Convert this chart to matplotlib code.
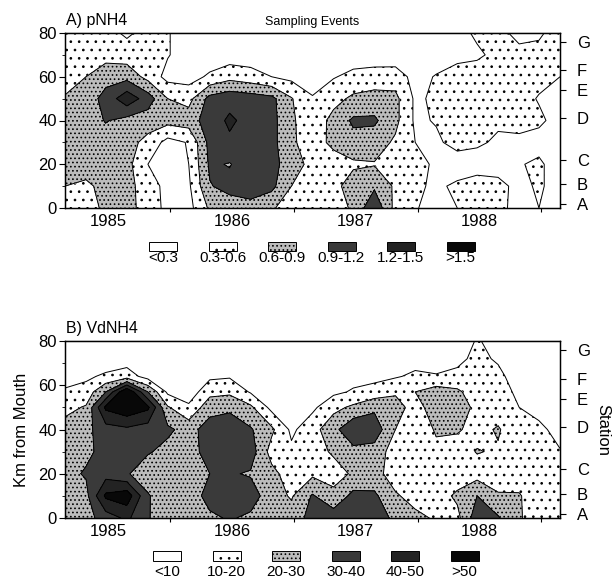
import numpy as np
import matplotlib
matplotlib.use("Agg")
import matplotlib.pyplot as plt
from matplotlib.patches import Rectangle

plt.rcParams["font.family"] = ["Liberation Sans", "DejaVu Sans"]
plt.rcParams["hatch.color"] = "black"
plt.rcParams["hatch.linewidth"] = 0.7

# sampling grid (decimal year)
YEARS = [1985.15, 1985.32, 1985.48, 1985.65, 1985.82, 1985.98, 1986.15, 1986.32,
         1986.48, 1986.65, 1986.82, 1986.98, 1987.15, 1987.32, 1987.48, 1987.65,
         1987.82, 1987.98, 1988.15, 1988.32, 1988.48, 1988.65, 1988.82, 1988.98, 1989.15]

# A) pNH4, rows from km 80 down to km 0
KM_A = [80, 70, 60, 50, 40, 30, 20, 10, 0]
PNH4 = [
    [0.45, 0.45, 0.40, 0.25, 0.40, 0.32, 0.15, 0.12, 0.12, 0.12, 0.12, 0.12, 0.12, 0.12, 0.12, 0.12, 0.12, 0.12, 0.15, 0.20, 0.35, 0.40, 0.20, 0.25, 0.45],
    [0.45, 0.48, 0.48, 0.45, 0.42, 0.32, 0.15, 0.12, 0.14, 0.14, 0.12, 0.12, 0.12, 0.12, 0.15, 0.15, 0.12, 0.12, 0.15, 0.20, 0.25, 0.38, 0.40, 0.40, 0.45],
    [0.50, 0.60, 0.80, 0.80, 0.50, 0.20, 0.18, 0.35, 0.50, 0.42, 0.30, 0.22, 0.18, 0.28, 0.38, 0.42, 0.45, 0.20, 0.32, 0.45, 0.45, 0.40, 0.35, 0.38, 0.30],
    [0.62, 0.75, 1.00, 1.40, 1.05, 0.60, 0.50, 1.00, 1.10, 1.05, 0.98, 0.62, 0.32, 0.50, 0.66, 0.72, 0.68, 0.25, 0.35, 0.45, 0.45, 0.40, 0.40, 0.28, 0.20],
    [0.70, 0.75, 0.92, 0.80, 0.75, 0.70, 0.75, 1.05, 1.25, 1.10, 1.00, 0.65, 0.40, 0.70, 0.95, 0.95, 0.68, 0.25, 0.32, 0.45, 0.40, 0.35, 0.42, 0.35, 0.20],
    [0.70, 0.72, 0.75, 0.72, 0.50, 0.20, 0.32, 1.00, 1.15, 1.05, 1.00, 0.65, 0.45, 0.68, 0.80, 0.75, 0.55, 0.30, 0.25, 0.40, 0.35, 0.25, 0.22, 0.20, 0.15],
    [0.70, 0.72, 0.72, 0.70, 0.30, 0.15, 0.30, 0.95, 0.88, 1.10, 1.00, 0.75, 0.50, 0.45, 0.55, 0.58, 0.45, 0.40, 0.25, 0.15, 0.15, 0.15, 0.28, 0.35, 0.15],
    [0.60, 0.55, 0.68, 0.70, 0.45, 0.20, 0.25, 0.88, 1.00, 1.05, 0.98, 0.60, 0.45, 0.50, 0.75, 0.85, 0.55, 0.35, 0.25, 0.35, 0.45, 0.40, 0.20, 0.35, 0.15],
    [0.40, 0.50, 0.65, 0.68, 0.50, 0.20, 0.20, 0.65, 0.75, 0.80, 0.65, 0.40, 0.35, 0.45, 0.65, 1.15, 0.50, 0.32, 0.20, 0.30, 0.42, 0.38, 0.20, 0.30, 0.20],
]

# B) VdNH4, rows from km 80 down to km 0
KM_B = [80, 72, 64, 57, 50, 40, 30, 20, 10, 0]
VDNH4 = [
    [3, 3, 3, 4, 3, 2, 2, 2, 2, 2, 2, 2, 2, 2, 2, 2, 2, 2, 2, 3, 11, 6, 3, 2, 2],
    [4, 5, 3, 5, 5, 3, 2, 4, 4, 3, 2, 2, 2, 3, 4, 4, 5, 6, 4, 8, 12, 9, 4, 3, 2],
    [7, 8, 12, 15, 6, 5, 3, 8, 9, 5, 3, 3, 3, 5, 7, 7, 9, 12, 11, 12, 14, 12, 6, 4, 3],
    [11, 14, 30, 60, 30, 8, 4, 17, 18, 9, 5, 5, 5, 8, 11, 14, 19, 20, 25, 22, 14, 14, 8, 5, 3],
    [17, 21, 52, 58, 52, 21, 12, 26, 28, 22, 7, 6, 8, 17, 22, 28, 23, 17, 24, 24, 18, 15, 10, 7, 4],
    [24, 27, 36, 38, 35, 32, 26, 35, 36, 31, 22, 8, 16, 27, 38, 36, 20, 14, 21, 21, 17, 21, 13, 12, 7],
    [26, 28, 33, 33, 31, 27, 25, 35, 37, 35, 16, 12, 17, 21, 27, 26, 15, 13, 18, 16, 20.5, 19, 14, 14, 10.5],
    [27, 31, 36, 31, 24, 24, 25, 30, 31, 29, 23, 15, 18, 17, 21, 23, 16, 13, 15, 14, 16, 15, 14, 14, 12],
    [26, 27, 52, 56, 31, 23, 24, 34, 36, 35, 24, 19, 31, 22, 33, 32, 21, 17, 15, 22, 30, 21, 21, 13, 13],
    [25, 26, 35, 42, 31, 22, 23, 28, 31, 28, 22, 24, 34, 36, 36, 37, 27, 22, 19, 17, 36, 31, 21, 15, 12],
]

LEVELS_A = [0.3, 0.6, 0.9, 1.2, 1.5]
LEVELS_B = [10, 20, 30, 40, 50]
LABELS_A = ["<0.3", "0.3-0.6", "0.6-0.9", "0.9-1.2", "1.2-1.5", ">1.5"]
LABELS_B = ["<10", "10-20", "20-30", "30-40", "40-50", ">50"]

STATIONS = ["A", "B", "C", "D", "E", "F", "G"]
STATION_KM = [2, 11, 22, 41, 54, 63, 76]
YEAR_LABELS = ["1985", "1986", "1987", "1988"]

SAMPLING = [1985.17, 1985.22, 1985.26, 1985.31, 1985.36, 1985.39, 1985.44, 1985.48,
            1985.53, 1985.57, 1985.62, 1985.66, 1985.71, 1985.76, 1985.82, 1985.89,
            1985.97, 1986.06, 1986.14, 1986.21, 1986.26, 1986.31, 1986.36, 1986.41,
            1986.45, 1986.50, 1986.55, 1986.60, 1986.64, 1986.69, 1986.75, 1986.83,
            1986.92, 1987.02, 1987.12, 1987.20, 1987.25, 1987.30, 1987.34, 1987.39,
            1987.43, 1987.48, 1987.52, 1987.57, 1987.62, 1987.66, 1987.71, 1987.77,
            1987.85, 1987.94, 1988.04, 1988.13, 1988.20, 1988.25, 1988.29, 1988.33,
            1988.38, 1988.42, 1988.46, 1988.51, 1988.55, 1988.60, 1988.65, 1988.70,
            1988.76, 1988.84, 1988.93, 1989.02, 1989.10]

FILL_COLORS = ["white", "white", "#bcbcbc", "#3a3a3a", "#232323", "#080808"]
FILL_HATCHES = [None, "..", "....", None, None, None]

W, H = 616, 582


def draw_panel(ax, values, km, levels, top_val):
    x = np.array(YEARS)
    y = np.array(km)[::-1]
    z = np.array(values, dtype=float)[::-1]
    bounds = [0] + levels + [top_val]
    ax.contourf(x, y, z, levels=bounds, colors=FILL_COLORS, hatches=FILL_HATCHES)
    ax.contour(x, y, z, levels=levels, colors="k", linewidths=0.7)

    ax.set_xlim(YEARS[0], YEARS[-1])
    ax.set_ylim(0, 80)
    ax.set_xticks([1986, 1987, 1988, 1989], labels=[])
    ax.set_xticks([1985.5, 1986.5, 1987.5, 1988.5], labels=YEAR_LABELS, minor=True)
    ax.tick_params(axis="x", which="major", direction="out", length=3)
    ax.tick_params(axis="x", which="minor", length=0, labelsize=12, pad=4)
    ax.set_yticks([0, 20, 40, 60, 80])
    ax.set_yticks([10, 30, 50, 70], minor=True)
    ax.tick_params(axis="y", which="major", direction="out", length=4, labelsize=12, pad=2)
    ax.tick_params(axis="y", which="minor", direction="out", length=2.5)
    for s in ax.spines.values():
        s.set_linewidth(1.0)

    top = ax.secondary_xaxis("top")
    top.set_xticks(SAMPLING, labels=[])
    top.tick_params(direction="in", length=2.5, width=0.6)

    right = ax.twinx()
    right.set_ylim(0, 80)
    right.set_yticks(STATION_KM, labels=STATIONS)
    right.tick_params(axis="y", direction="out", length=4, labelsize=12, pad=8)


fig = plt.figure(figsize=(W / 100, H / 100), dpi=100)

ax_a = fig.add_axes([65 / W, 1 - 208 / H, 495 / W, 175 / H])
draw_panel(ax_a, PNH4, KM_A, LEVELS_A, 5)

ax_b = fig.add_axes([65 / W, 1 - 518 / H, 495 / W, 177 / H])
draw_panel(ax_b, VDNH4, KM_B, LEVELS_B, 200)

# overlay in pixel coordinates for titles and the legend rows
ov = fig.add_axes([0, 0, 1, 1])
ov.set_xlim(0, W)
ov.set_ylim(H, 0)
ov.axis("off")

ov.text(66, 20, "A) pNH4", fontsize=11.5, ha="left", va="center")
ov.text(312, 22, "Sampling Events", fontsize=9, ha="center", va="center")
ov.text(66, 329, "B) VdNH4", fontsize=11.5, ha="left", va="center")
ov.text(22, 430, "Km from Mouth", fontsize=12, rotation=90, ha="center", va="center")
ov.text(603, 430, "Station", fontsize=12, rotation=-90, ha="center", va="center")

for labels, box_top, box_h, label_y, x0 in [(LABELS_A, 242, 9, 258, 163),
                                             (LABELS_B, 551, 10, 572, 167)]:
    for i, lab in enumerate(labels):
        cx = x0 + i * 59.5
        ov.add_patch(Rectangle((cx - 14, box_top), 28, box_h, facecolor=FILL_COLORS[i],
                               hatch=FILL_HATCHES[i], edgecolor="black", linewidth=0.7))
        ov.text(cx, label_y, lab, fontsize=11, ha="center", va="center")

fig.savefig("out.png", dpi=100)
